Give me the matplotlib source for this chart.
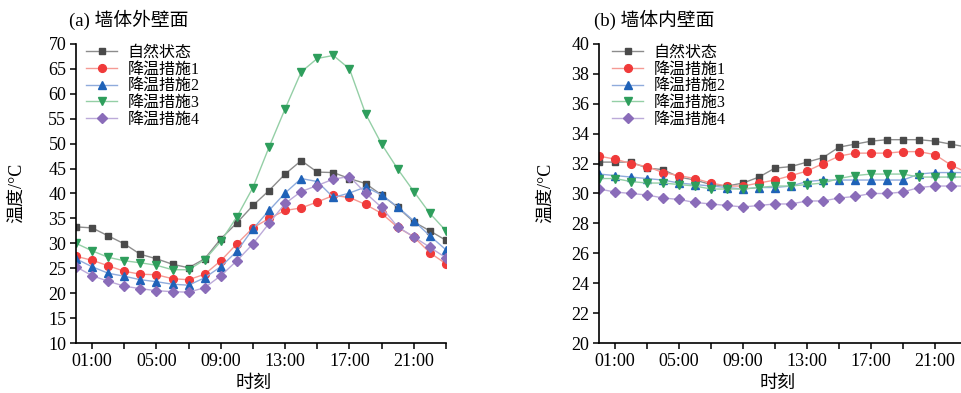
import matplotlib
matplotlib.use("Agg")
import matplotlib.pyplot as plt
import numpy as np

plt.rcParams['font.family'] = ['Liberation Serif', 'Noto Sans CJK SC']
plt.rcParams['axes.unicode_minus'] = False

hours = list(range(24))
series_names = ["自然状态", "降温措施1", "降温措施2", "降温措施3", "降温措施4"]

# (a) 墙体外壁面
outer_natural = [33.3, 33.1, 31.5, 29.9, 27.8, 26.9, 25.8, 25.1, 26.9, 30.9, 34.1, 37.6,
                 40.6, 43.9, 46.6, 44.3, 44.2, 43.0, 42.0, 39.7, 37.2, 34.3, 32.5, 30.6]
outer_m1 = [27.4, 26.6, 25.5, 24.4, 23.8, 23.7, 22.9, 22.7, 23.8, 26.5, 29.9, 33.1,
            35.0, 36.6, 37.1, 38.3, 39.6, 39.2, 37.8, 36.0, 33.2, 31.3, 28.1, 25.9]
outer_m2 = [26.9, 25.3, 24.0, 23.4, 22.7, 22.3, 21.8, 21.6, 23.1, 25.3, 28.4, 32.9,
            36.6, 40.1, 43.0, 42.4, 39.2, 40.1, 41.3, 39.7, 37.3, 34.5, 31.5, 28.7]
outer_m3 = [30.0, 28.5, 27.2, 26.5, 26.1, 25.6, 24.7, 24.7, 26.7, 30.4, 35.3, 41.2,
            49.3, 57.0, 64.4, 67.1, 67.7, 65.0, 56.0, 49.9, 44.9, 40.4, 36.0, 32.5]
outer_m4 = [25.3, 23.5, 22.4, 21.4, 20.9, 20.5, 20.3, 20.2, 21.1, 23.5, 26.5, 29.9,
            34.0, 38.0, 40.4, 41.6, 42.9, 43.4, 40.1, 37.2, 33.3, 31.3, 29.2, 27.1]

# (b) 墙体内壁面
inner_natural = [32.1, 32.1, 32.1, 31.7, 31.6, 31.1, 30.9, 30.6, 30.5, 30.7, 31.1, 31.7,
                 31.8, 32.1, 32.4, 33.1, 33.3, 33.5, 33.6, 33.6, 33.6, 33.5, 33.3, 33.1]
inner_m1 = [32.5, 32.3, 32.0, 31.8, 31.4, 31.2, 31.0, 30.7, 30.5, 30.5, 30.7, 30.9,
            31.2, 31.5, 32.0, 32.5, 32.7, 32.7, 32.7, 32.8, 32.8, 32.6, 31.9, 31.4]
inner_m2 = [31.3, 31.2, 31.1, 31.0, 30.9, 30.7, 30.6, 30.5, 30.4, 30.3, 30.4, 30.4,
            30.5, 30.8, 30.9, 30.9, 30.9, 30.9, 30.9, 30.9, 31.3, 31.4, 31.4, 31.4]
inner_m3 = [31.0, 31.0, 30.8, 30.7, 30.7, 30.6, 30.5, 30.3, 30.3, 30.3, 30.4, 30.5,
            30.5, 30.6, 30.7, 31.0, 31.2, 31.3, 31.3, 31.3, 31.1, 31.1, 31.1, 31.1]
inner_m4 = [30.3, 30.1, 30.0, 29.9, 29.7, 29.6, 29.4, 29.3, 29.2, 29.1, 29.2, 29.3,
            29.3, 29.5, 29.5, 29.7, 29.8, 30.0, 30.0, 30.1, 30.4, 30.5, 30.5, 30.5]

tick_hours = list(range(1, 24, 2))
tick_labels = ["01:00", "", "05:00", "", "09:00", "", "13:00", "", "17:00", "", "21:00", ""]

styles = [
    dict(marker='s', mfc='#4a4a4a', lc='#8c8c8c', ms=5.0),
    dict(marker='o', mfc='#f03a3a', lc='#f59a94', ms=5.6),
    dict(marker='^', mfc='#1f62b8', lc='#8fabdc', ms=6.2),
    dict(marker='v', mfc='#2e9e5c', lc='#94cfa6', ms=6.2),
    dict(marker='D', mfc='#8a6cb9', lc='#bcaad9', ms=4.8),
]

W, H = 962, 393
fig = plt.figure(figsize=(W / 100, H / 100), dpi=100)

def fx(px):
    return px / W

def fy(py):
    return 1 - py / H

def make_panel(left_px, right_px, data, ylim, yticks, title, title_x, ylabel_x, xlabel_x, legend_x):
    ax = fig.add_axes([fx(left_px), fy(343), fx(right_px - left_px), (343 - 44) / H])
    for vals, name, st in zip(data, series_names, styles):
        ax.plot(hours, vals, color=st['lc'], lw=1.0, marker=st['marker'], ms=st['ms'],
                mfc=st['mfc'], mec=st['mfc'], label=name)
    ax.set_xlim(0, 23)
    ax.set_ylim(*ylim)
    ax.set_yticks(yticks)
    ax.set_xticks(tick_hours)
    ax.set_xticklabels(tick_labels)
    for s in ['top', 'right']:
        ax.spines[s].set_visible(False)
    for s in ['left', 'bottom']:
        ax.spines[s].set_linewidth(1.2)
    ax.tick_params(direction='out', length=4, width=1.1, labelsize=13, pad=3)
    ax.legend(loc='upper left', bbox_to_anchor=(fx(legend_x), fy(45)),
              bbox_transform=fig.transFigure, frameon=False, fontsize=11.5,
              handlelength=1.95, handletextpad=0.65, labelspacing=0.04,
              borderpad=0, borderaxespad=0)
    fig.text(fx(title_x), fy(20), title, fontsize=13.5, ha='left', va='center')
    fig.text(fx(ylabel_x), fy(193), "温度/°C", fontsize=13, rotation=90, ha='center', va='center')
    fig.text(fx(xlabel_x), fy(383), "时刻", fontsize=13, ha='center', va='center')
    return ax

make_panel(76, 446, [outer_natural, outer_m1, outer_m2, outer_m3, outer_m4],
           (10, 70), list(range(10, 71, 5)), "(a) 墙体外壁面", 69, 17, 254, 86)
make_panel(599, 967, [inner_natural, inner_m1, inner_m2, inner_m3, inner_m4],
           (20, 40), list(range(20, 41, 2)), "(b) 墙体内壁面", 594, 546, 778, 612)

fig.savefig("out.png", dpi=100)
